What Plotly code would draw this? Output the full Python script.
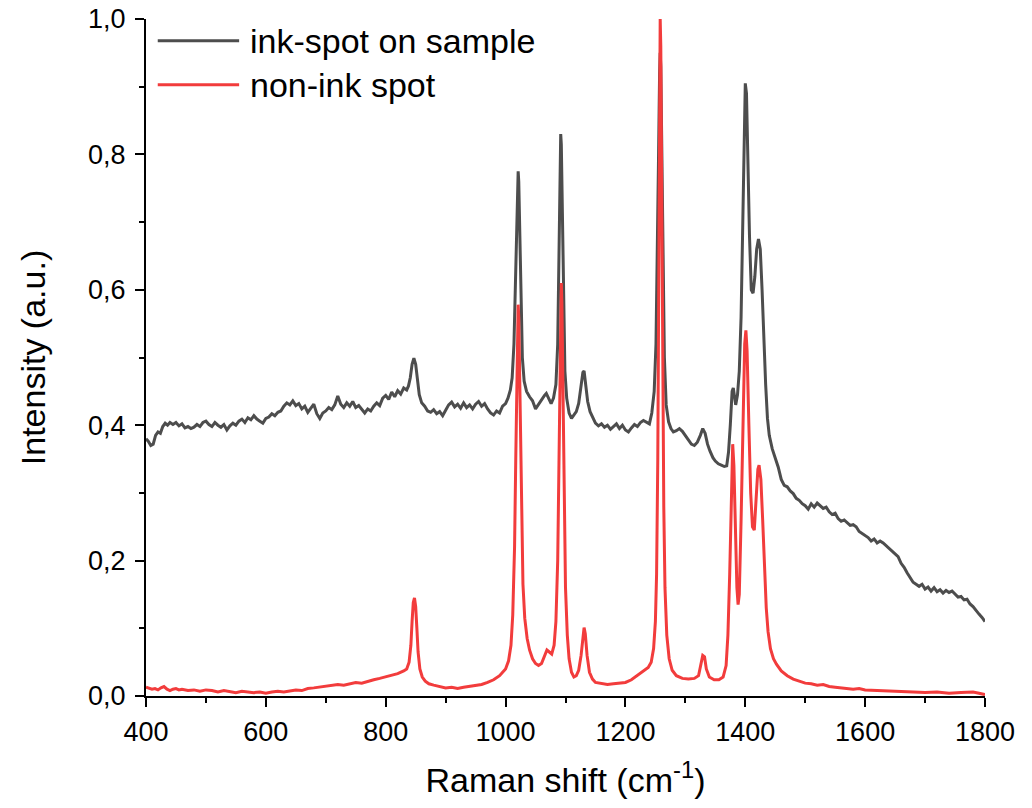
import plotly.graph_objects as go

# ---------------- data ----------------
ink_x = [400, 404, 408, 412, 416, 420, 424, 428, 432, 436, 440, 445, 450, 455, 460, 465, 470, 475, 480, 485,
         490, 495, 500, 505, 510, 515, 520, 525, 530, 535, 540, 545, 550, 555, 560, 565, 570, 575, 580, 585,
         590, 595, 600, 605, 610, 615, 620, 625, 630, 635, 640, 645, 650, 655, 660, 665, 670, 675, 680, 685,
         690, 695, 700, 705, 710, 715, 720, 725, 730, 735, 740, 745, 750, 755, 760, 765, 770, 775, 780, 785,
         790, 795, 800, 805, 810, 815, 820, 825, 830, 835, 838, 841, 844, 847, 850, 853, 856, 860, 865, 870,
         875, 880, 885, 890, 895, 900, 905, 910, 915, 920, 925, 930, 935, 940, 945, 950, 955, 960, 965, 970,
         975, 980, 985, 990, 995, 1000, 1004, 1008, 1011, 1014, 1016, 1018, 1020, 1021, 1022, 1024, 1026, 1028,
         1031, 1035, 1040, 1045, 1050, 1055, 1060, 1065, 1068, 1072, 1076, 1080, 1084, 1087, 1089, 1091, 1092,
         1093, 1095, 1097, 1099, 1102, 1106, 1110, 1114, 1118, 1122, 1126, 1129, 1131, 1134, 1137, 1141, 1146,
         1150, 1155, 1160, 1165, 1170, 1175, 1180, 1185, 1190, 1195, 1200, 1205, 1210, 1215, 1220, 1225, 1230,
         1235, 1240, 1244, 1248, 1251, 1253, 1255, 1257, 1258, 1259, 1261, 1263, 1265, 1268, 1272, 1276, 1280,
         1285, 1290, 1295, 1300, 1305, 1310, 1315, 1320, 1325, 1329, 1333, 1337, 1341, 1346, 1350, 1355, 1360,
         1365, 1369, 1372, 1375, 1378, 1380, 1382, 1384, 1387, 1390, 1393, 1396, 1398, 1400, 1402, 1404, 1407,
         1410, 1413, 1416, 1419, 1422, 1425, 1428, 1431, 1434, 1437, 1440, 1445, 1450, 1455, 1460, 1465, 1470,
         1475, 1480, 1485, 1490, 1495, 1500, 1505, 1510, 1515, 1520, 1525, 1530, 1535, 1540, 1545, 1550, 1555,
         1560, 1565, 1570, 1575, 1580, 1585, 1590, 1595, 1600, 1605, 1610, 1615, 1620, 1625, 1630, 1635, 1640,
         1645, 1650, 1655, 1660, 1665, 1670, 1675, 1680, 1685, 1690, 1695, 1700, 1705, 1710, 1715, 1720, 1725,
         1730, 1735, 1740, 1745, 1750, 1755, 1760, 1765, 1770, 1775, 1780, 1785, 1790, 1795, 1800]
ink_y = [0.380, 0.376, 0.370, 0.372, 0.385, 0.390, 0.388, 0.398, 0.403, 0.400, 0.404, 0.401, 0.404, 0.399, 0.402,
         0.396, 0.398, 0.395, 0.397, 0.401, 0.398, 0.404, 0.406, 0.401, 0.398, 0.404, 0.400, 0.397, 0.401, 0.393,
         0.399, 0.403, 0.400, 0.406, 0.409, 0.404, 0.411, 0.408, 0.414, 0.409, 0.406, 0.403, 0.410, 0.412, 0.417,
         0.414, 0.419, 0.421, 0.428, 0.433, 0.430, 0.436, 0.429, 0.432, 0.424, 0.428, 0.419, 0.426, 0.431, 0.417,
         0.410, 0.418, 0.421, 0.426, 0.423, 0.430, 0.443, 0.431, 0.426, 0.433, 0.428, 0.435, 0.426, 0.429, 0.423,
         0.418, 0.424, 0.421, 0.428, 0.433, 0.429, 0.440, 0.444, 0.438, 0.449, 0.442, 0.451, 0.446, 0.455, 0.452,
         0.458, 0.470, 0.490, 0.499, 0.490, 0.465, 0.445, 0.433, 0.428, 0.421, 0.419, 0.423, 0.417, 0.420, 0.414,
         0.422, 0.430, 0.434, 0.427, 0.431, 0.425, 0.433, 0.426, 0.430, 0.424, 0.431, 0.435, 0.428, 0.432, 0.424,
         0.418, 0.415, 0.421, 0.418, 0.428, 0.432, 0.440, 0.452, 0.470, 0.520, 0.590, 0.690, 0.765, 0.775, 0.760,
         0.680, 0.570, 0.500, 0.465, 0.450, 0.442, 0.436, 0.424, 0.431, 0.438, 0.444, 0.447, 0.439, 0.432, 0.440,
         0.460, 0.520, 0.620, 0.760, 0.830, 0.815, 0.700, 0.560, 0.480, 0.440, 0.418, 0.410, 0.415, 0.420, 0.432,
         0.455, 0.478, 0.480, 0.460, 0.435, 0.420, 0.410, 0.403, 0.399, 0.402, 0.397, 0.400, 0.394, 0.398, 0.402,
         0.395, 0.400, 0.393, 0.390, 0.396, 0.401, 0.398, 0.404, 0.407, 0.404, 0.402, 0.418, 0.450, 0.520, 0.620,
         0.780, 0.920, 0.950, 0.930, 0.800, 0.620, 0.500, 0.430, 0.405, 0.395, 0.390, 0.392, 0.395, 0.391, 0.385,
         0.378, 0.372, 0.370, 0.375, 0.385, 0.395, 0.388, 0.372, 0.362, 0.352, 0.347, 0.343, 0.341, 0.339, 0.340,
         0.360, 0.400, 0.450, 0.455, 0.438, 0.430, 0.445, 0.480, 0.560, 0.700, 0.830, 0.905, 0.890, 0.800, 0.680,
         0.600, 0.595, 0.620, 0.660, 0.675, 0.660, 0.600, 0.520, 0.460, 0.410, 0.385, 0.365, 0.352, 0.338, 0.320,
         0.311, 0.309, 0.303, 0.299, 0.292, 0.289, 0.284, 0.281, 0.276, 0.284, 0.279, 0.285, 0.281, 0.277, 0.279,
         0.272, 0.268, 0.270, 0.262, 0.258, 0.260, 0.256, 0.252, 0.253, 0.250, 0.243, 0.240, 0.236, 0.234, 0.229,
         0.232, 0.226, 0.229, 0.226, 0.222, 0.218, 0.214, 0.210, 0.206, 0.196, 0.190, 0.182, 0.175, 0.168, 0.165,
         0.162, 0.165, 0.158, 0.161, 0.155, 0.160, 0.154, 0.157, 0.152, 0.156, 0.153, 0.155, 0.150, 0.146, 0.147,
         0.142, 0.143, 0.136, 0.132, 0.126, 0.121, 0.116, 0.110]

non_x = [400, 405, 410, 415, 420, 425, 430, 435, 440, 445, 450, 455, 460, 470, 480, 490, 500, 510, 520, 530,
         540, 550, 560, 570, 580, 590, 600, 610, 620, 630, 640, 650, 660, 670, 680, 690, 700, 710, 720, 730,
         740, 750, 760, 770, 780, 790, 800, 810, 820, 830, 835, 839, 842, 844, 846, 848, 850, 852, 854, 857,
         861, 866, 872, 880, 890, 900, 910, 920, 930, 940, 950, 960, 970, 980, 990, 1000, 1005, 1009, 1012,
         1015, 1017, 1019, 1020, 1021, 1022, 1023, 1025, 1027, 1029, 1032, 1036, 1040, 1045, 1050, 1055, 1060,
         1065, 1069, 1073, 1077, 1081, 1084, 1087, 1089, 1091, 1092, 1093, 1094, 1096, 1098, 1100, 1103, 1106,
         1110, 1114, 1118, 1122, 1126, 1129, 1131, 1133, 1136, 1140, 1145, 1150, 1160, 1170, 1180, 1190, 1200,
         1210, 1220, 1230, 1238, 1243, 1247, 1250, 1252, 1254, 1256, 1257, 1258, 1259, 1260, 1262, 1264, 1266,
         1269, 1273, 1278, 1285, 1295, 1305, 1315, 1322, 1326, 1329, 1332, 1335, 1340, 1348, 1356, 1363, 1368,
         1371, 1374, 1377, 1379, 1381, 1383, 1386, 1388, 1390, 1393, 1396, 1399, 1401, 1403, 1406, 1409, 1412,
         1415, 1418, 1421, 1423, 1426, 1429, 1432, 1435, 1438, 1442, 1447, 1452, 1460, 1470, 1480, 1490, 1500,
         1510, 1520, 1530, 1540, 1550, 1560, 1570, 1580, 1590, 1600, 1620, 1640, 1660, 1680, 1700, 1720, 1740,
         1760, 1780, 1790, 1800]
non_y = [0.013, 0.012, 0.010, 0.011, 0.009, 0.012, 0.014, 0.010, 0.008, 0.010, 0.011, 0.009, 0.010, 0.008, 0.009,
         0.007, 0.009, 0.008, 0.006, 0.008, 0.007, 0.005, 0.007, 0.006, 0.005, 0.006, 0.004, 0.006, 0.007, 0.006,
         0.008, 0.009, 0.008, 0.011, 0.012, 0.013, 0.014, 0.015, 0.017, 0.016, 0.018, 0.020, 0.019, 0.022, 0.024,
         0.026, 0.028, 0.030, 0.033, 0.037, 0.040, 0.050, 0.075, 0.110, 0.138, 0.145, 0.132, 0.100, 0.065, 0.040,
         0.028, 0.022, 0.018, 0.016, 0.014, 0.012, 0.013, 0.011, 0.013, 0.014, 0.015, 0.017, 0.020, 0.024, 0.030,
         0.040, 0.052, 0.075, 0.120, 0.220, 0.350, 0.500, 0.560, 0.578, 0.560, 0.500, 0.360, 0.240, 0.165, 0.115,
         0.085, 0.068, 0.055, 0.048, 0.045, 0.048, 0.058, 0.068, 0.065, 0.062, 0.075, 0.110, 0.200, 0.330, 0.520,
         0.600, 0.610, 0.580, 0.420, 0.260, 0.160, 0.090, 0.055, 0.035, 0.028, 0.030, 0.038, 0.060, 0.090, 0.101,
         0.092, 0.060, 0.035, 0.025, 0.020, 0.018, 0.017, 0.018, 0.019, 0.020, 0.024, 0.030, 0.036, 0.042, 0.050,
         0.070, 0.110, 0.180, 0.350, 0.700, 0.900, 1.000, 0.960, 0.800, 0.500, 0.280, 0.160, 0.090, 0.055, 0.038,
         0.030, 0.026, 0.025, 0.026, 0.030, 0.045, 0.060, 0.058, 0.040, 0.028, 0.024, 0.024, 0.028, 0.045, 0.090,
         0.180, 0.320, 0.372, 0.340, 0.250, 0.160, 0.135, 0.150, 0.260, 0.400, 0.520, 0.540, 0.510, 0.400, 0.300,
         0.250, 0.245, 0.290, 0.335, 0.341, 0.320, 0.260, 0.190, 0.130, 0.095, 0.070, 0.055, 0.047, 0.037, 0.030,
         0.025, 0.022, 0.019, 0.018, 0.016, 0.017, 0.014, 0.013, 0.012, 0.012, 0.010, 0.011, 0.009, 0.008, 0.007,
         0.006, 0.006, 0.005, 0.006, 0.004, 0.005, 0.006, 0.004, 0.002]

series_names = ["ink-spot on sample", "non-ink spot"]
series_colors = ["#4d4d4d", "#f23c3c"]

x_tickvals = [400, 600, 800, 1000, 1200, 1400, 1600, 1800]
x_ticktext = ["400", "600", "800", "1000", "1200", "1400", "1600", "1800"]
y_tickvals = [0.0, 0.2, 0.4, 0.6, 0.8, 1.0]
y_ticktext = ["0,0", "0,2", "0,4", "0,6", "0,8", "1,0"]

FONT = "Liberation Sans"

fig = go.Figure()
fig.add_trace(go.Scatter(x=ink_x, y=ink_y, mode="lines", name=series_names[0],
                         line=dict(color=series_colors[0], width=3), showlegend=False))
fig.add_trace(go.Scatter(x=non_x, y=non_y, mode="lines", name=series_names[1],
                         line=dict(color=series_colors[1], width=3), showlegend=False))

# legend drawn as long line samples + text, as in the reference
legend_rows = [0.968, 0.903]
for name, color, yy in zip(series_names, series_colors, legend_rows):
    fig.add_shape(type="line", xref="paper", yref="paper", x0=0.014, x1=0.111, y0=yy, y1=yy,
                  line=dict(color=color, width=3))
    fig.add_annotation(xref="paper", yref="paper", x=0.121, y=yy, text=name, showarrow=False,
                       xanchor="left", yanchor="middle", font=dict(family=FONT, size=34, color="black"))

axis_common = dict(showline=True, linecolor="black", linewidth=2, ticks="outside", ticklen=9,
                   tickwidth=2, tickcolor="black", showgrid=False, zeroline=False, mirror=False,
                   automargin=False, tickfont=dict(family=FONT, size=27, color="black"))

fig.update_xaxes(range=[400, 1800], tickvals=x_tickvals, ticktext=x_ticktext,
                 minor=dict(ticks="outside", ticklen=5, tickwidth=2, tickcolor="black", dtick=100, tick0=400),
                 title=dict(text="Raman shift (cm<sup>-1</sup>)", font=dict(family=FONT, size=34, color="black"),
                            standoff=22),
                 ticklabelstandoff=2,
                 **axis_common)
fig.update_yaxes(range=[0, 1.0], tickvals=y_tickvals, ticktext=y_ticktext,
                 minor=dict(ticks="outside", ticklen=5, tickwidth=2, tickcolor="black", dtick=0.1, tick0=0),
                 title=dict(text="Intensity (a.u.)", font=dict(family=FONT, size=34, color="black"),
                            standoff=32),
                 ticklabelstandoff=4,
                 **axis_common)

fig.update_layout(width=1032, height=808, margin=dict(l=146, r=47, t=19, b=112),
                  plot_bgcolor="white", paper_bgcolor="white", showlegend=False)

fig.write_html("out.html")
